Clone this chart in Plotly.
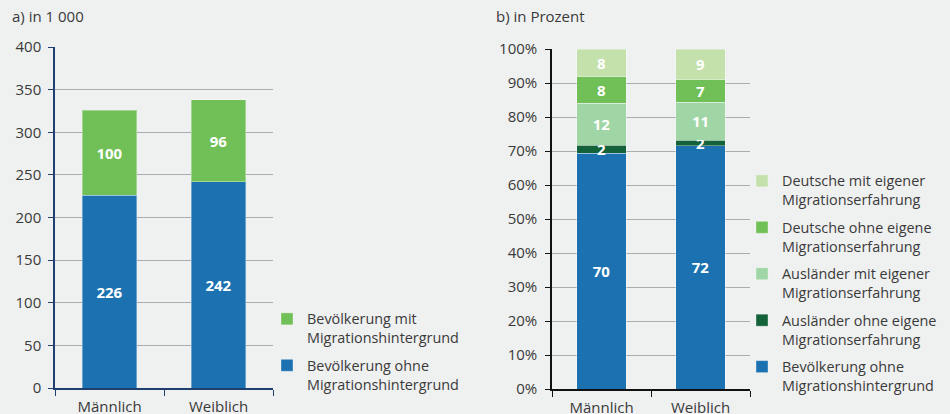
import plotly.graph_objects as go

categories = ["Männlich", "Weiblich"]

# Panel a) in 1 000
left_names = ["Bevölkerung ohne<br>Migrationshintergrund", "Bevölkerung mit<br>Migrationshintergrund"]
left_ohne = [226, 242]
left_mit = [100, 96]
left_colors = ["#1c72b1", "#70bf57"]

# Panel b) in Prozent
right_names = [
    "Bevölkerung ohne<br>Migrationshintergrund",
    "Ausländer ohne eigene<br>Migrationserfahrung",
    "Ausländer mit eigener<br>Migrationserfahrung",
    "Deutsche ohne eigene<br>Migrationserfahrung",
    "Deutsche mit eigener<br>Migrationserfahrung",
]
right_values = [
    [69.3, 71.6],
    [2.4, 1.5],
    [12.3, 11.2],
    [7.9, 6.7],
    [8.1, 9.0],
]
right_labels = [
    ["70", "72"],
    ["2", "2"],
    ["12", "11"],
    ["8", "7"],
    ["8", "9"],
]
right_colors = ["#1c72b1", "#14623a", "#a0d5a6", "#70bf57", "#c4e0ab"]

yticks_left = [0, 50, 100, 150, 200, 250, 300, 350, 400]
yticks_right = [0, 10, 20, 30, 40, 50, 60, 70, 80, 90, 100]

FONT = "Open Sans"
TXT = "#3a3a3a"
BG = "#eff0f0"
LEGFONT = 14.4

fig = go.Figure()

for i, (name, vals, col) in enumerate([(left_names[0], left_ohne, left_colors[0]),
                                       (left_names[1], left_mit, left_colors[1])]):
    fig.add_trace(go.Bar(
        x=categories, y=vals, name=name, marker_color=col,
        marker_line=dict(color="rgba(255,255,255,0.35)", width=1),
        text=[str(v) for v in vals], textposition="inside", insidetextanchor="middle",
        textangle=0,
        textfont=dict(color="white", size=15, family=FONT, weight="bold"),
        xaxis="x", yaxis="y", legend="legend", legendgroup="l%d" % i,
        legendrank=10 - i, hoverinfo="skip",
    ))

for i, (name, vals, labs, col) in enumerate(zip(right_names, right_values, right_labels, right_colors)):
    fig.add_trace(go.Bar(
        x=categories, y=vals, name=name, marker_color=col,
        marker_line=dict(color="rgba(255,255,255,0.35)", width=1),
        text=labs, textposition="inside", insidetextanchor="middle", textangle=0,
        textfont=dict(color="white", size=15, family=FONT, weight="bold"),
        xaxis="x2", yaxis="y2", legend="legend2", legendgroup="r%d" % i,
        legendrank=10 - i, hoverinfo="skip", cliponaxis=False,
    ))

W, H = 950, 414
def px(x): return x / W
def py(y): return 1 - y / H

xaxis_common = dict(showgrid=False, ticks="outside", ticklen=6, tickson="boundaries",
                    ticklabelstandoff=4,
                    tickfont=dict(size=15, color=TXT, family=FONT), automargin=False, fixedrange=True)
yaxis_common = dict(showline=True, linewidth=1.5, ticks="outside", ticklen=5,
                    showgrid=True, gridcolor="#a9adb1", gridwidth=1,
                    tickfont=dict(size=15, color=TXT, family=FONT), automargin=False,
                    fixedrange=True, zeroline=False)

fig.update_layout(
    width=W, height=H,
    margin=dict(l=0, r=0, t=0, b=0),
    paper_bgcolor=BG, plot_bgcolor=BG,
    barmode="stack", bargap=0.5,
    showlegend=True,
    font=dict(family=FONT, color=TXT, size=14),
    uniformtext=dict(minsize=15, mode="show"),
    xaxis=dict(domain=[px(55), px(273)], anchor="y", showline=True, linecolor="#203f70",
               linewidth=1.5, tickcolor="#203f70", **xaxis_common),
    yaxis=dict(domain=[py(388), py(47)], anchor="x", range=[0, 400], tickvals=yticks_left,
               linecolor="#203f70", tickcolor="#203f70", ticklabelstandoff=4, **yaxis_common),
    xaxis2=dict(domain=[px(552), px(750)], anchor="y2", showline=True, linecolor="#111111",
                linewidth=1.5, tickcolor="#111111", **xaxis_common),
    yaxis2=dict(domain=[py(389), py(49)], anchor="x2", range=[0, 100], tickvals=yticks_right,
                ticktext=[f"{v}%" for v in yticks_right],
                linecolor="#111111", tickcolor="#111111", ticklabelstandoff=5, **yaxis_common),
    legend=dict(x=px(267), y=py(303), xanchor="left", yanchor="top",
                traceorder="grouped", tracegroupgap=6, valign="top",
                font=dict(size=LEGFONT, color=TXT, family=FONT), bgcolor="rgba(0,0,0,0)",
                itemclick=False, itemdoubleclick=False),
    legend2=dict(x=px(742), y=py(165), xanchor="left", yanchor="top",
                 traceorder="grouped", tracegroupgap=6, valign="top",
                 font=dict(size=LEGFONT, color=TXT, family=FONT), bgcolor="rgba(0,0,0,0)",
                 itemclick=False, itemdoubleclick=False),
    annotations=[
        dict(text="a) in 1 000", x=px(10), y=py(16), xref="paper", yref="paper",
             xanchor="left", yanchor="middle", showarrow=False,
             font=dict(size=15, color=TXT, family=FONT)),
        dict(text="b) in Prozent", x=px(494), y=py(16), xref="paper", yref="paper",
             xanchor="left", yanchor="middle", showarrow=False,
             font=dict(size=15, color=TXT, family=FONT)),
    ],
)

fig.write_html("out.html", config={"displayModeBar": False},
               post_script="document.body.style.margin='0';document.body.style.overflow='hidden';")
